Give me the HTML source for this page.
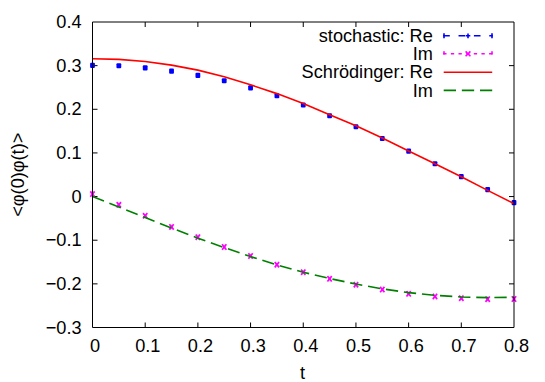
<!DOCTYPE html><html><head><meta charset="utf-8"><title>plot</title><style>html,body{margin:0;padding:0;background:#fff}svg{display:block}text{font-family:"Liberation Sans",sans-serif}</style></head><body>
<svg width="545" height="382" viewBox="0 0 545 382" font-family="Liberation Sans, sans-serif">
<rect width="545" height="382" fill="#fff"/>
<path d="M145.19,327.50 v-5 M145.19,22.00 v5 M197.88,327.50 v-5 M197.88,22.00 v5 M250.56,327.50 v-5 M250.56,22.00 v5 M303.25,327.50 v-5 M303.25,22.00 v5 M355.94,327.50 v-5 M355.94,22.00 v5 M408.62,327.50 v-5 M408.62,22.00 v5 M461.31,327.50 v-5 M461.31,22.00 v5 M92.50,65.64 h5 M514.00,65.64 h-5 M92.50,109.29 h5 M514.00,109.29 h-5 M92.50,152.93 h5 M514.00,152.93 h-5 M92.50,196.57 h5 M514.00,196.57 h-5 M92.50,240.21 h5 M514.00,240.21 h-5 M92.50,283.86 h5 M514.00,283.86 h-5" fill="none" stroke="#000" stroke-width="1"/>
<g fill="#0000ff"><rect x="90.10" y="62.80" width="4.8" height="5.1" rx="1"/><rect x="116.44" y="63.25" width="4.8" height="5.1" rx="1"/><rect x="142.79" y="65.35" width="4.8" height="5.1" rx="1"/><rect x="169.13" y="68.55" width="4.8" height="5.1" rx="1"/><rect x="195.47" y="72.85" width="4.8" height="5.1" rx="1"/><rect x="221.82" y="78.25" width="4.8" height="5.1" rx="1"/><rect x="248.16" y="85.30" width="4.8" height="5.1" rx="1"/><rect x="274.51" y="93.20" width="4.8" height="5.1" rx="1"/><rect x="300.85" y="102.50" width="4.8" height="5.1" rx="1"/><rect x="327.19" y="113.15" width="4.8" height="5.1" rx="1"/><rect x="353.54" y="124.20" width="4.8" height="5.1" rx="1"/><rect x="379.88" y="135.95" width="4.8" height="5.1" rx="1"/><rect x="406.23" y="148.55" width="4.8" height="5.1" rx="1"/><rect x="432.57" y="161.25" width="4.8" height="5.1" rx="1"/><rect x="458.91" y="174.10" width="4.8" height="5.1" rx="1"/><rect x="485.26" y="187.10" width="4.8" height="5.1" rx="1"/><rect x="511.60" y="200.05" width="4.8" height="5.1" rx="1"/></g>
<g stroke="#ff00ff" stroke-width="1.7" fill="none"><path d="M90.35,191.40 l4.30,5.40 M90.35,196.80 l4.30,-5.40"/><rect x="91.30" y="192.80" width="2.4" height="2.6" stroke="none" fill="#ff00ff"/><path d="M116.69,202.10 l4.30,5.40 M116.69,207.50 l4.30,-5.40"/><rect x="117.64" y="203.50" width="2.4" height="2.6" stroke="none" fill="#ff00ff"/><path d="M143.04,213.10 l4.30,5.40 M143.04,218.50 l4.30,-5.40"/><rect x="143.99" y="214.50" width="2.4" height="2.6" stroke="none" fill="#ff00ff"/><path d="M169.38,224.20 l4.30,5.40 M169.38,229.60 l4.30,-5.40"/><rect x="170.33" y="225.60" width="2.4" height="2.6" stroke="none" fill="#ff00ff"/><path d="M195.72,234.50 l4.30,5.40 M195.72,239.90 l4.30,-5.40"/><rect x="196.68" y="235.90" width="2.4" height="2.6" stroke="none" fill="#ff00ff"/><path d="M222.07,244.30 l4.30,5.40 M222.07,249.70 l4.30,-5.40"/><rect x="223.02" y="245.70" width="2.4" height="2.6" stroke="none" fill="#ff00ff"/><path d="M248.41,253.30 l4.30,5.40 M248.41,258.70 l4.30,-5.40"/><rect x="249.36" y="254.70" width="2.4" height="2.6" stroke="none" fill="#ff00ff"/><path d="M274.76,261.95 l4.30,5.40 M274.76,267.35 l4.30,-5.40"/><rect x="275.71" y="263.35" width="2.4" height="2.6" stroke="none" fill="#ff00ff"/><path d="M301.10,269.45 l4.30,5.40 M301.10,274.85 l4.30,-5.40"/><rect x="302.05" y="270.85" width="2.4" height="2.6" stroke="none" fill="#ff00ff"/><path d="M327.44,276.10 l4.30,5.40 M327.44,281.50 l4.30,-5.40"/><rect x="328.39" y="277.50" width="2.4" height="2.6" stroke="none" fill="#ff00ff"/><path d="M353.79,281.95 l4.30,5.40 M353.79,287.35 l4.30,-5.40"/><rect x="354.74" y="283.35" width="2.4" height="2.6" stroke="none" fill="#ff00ff"/><path d="M380.13,286.90 l4.30,5.40 M380.13,292.30 l4.30,-5.40"/><rect x="381.08" y="288.30" width="2.4" height="2.6" stroke="none" fill="#ff00ff"/><path d="M406.48,291.10 l4.30,5.40 M406.48,296.50 l4.30,-5.40"/><rect x="407.43" y="292.50" width="2.4" height="2.6" stroke="none" fill="#ff00ff"/><path d="M432.82,293.70 l4.30,5.40 M432.82,299.10 l4.30,-5.40"/><rect x="433.77" y="295.10" width="2.4" height="2.6" stroke="none" fill="#ff00ff"/><path d="M459.16,295.50 l4.30,5.40 M459.16,300.90 l4.30,-5.40"/><rect x="460.11" y="296.90" width="2.4" height="2.6" stroke="none" fill="#ff00ff"/><path d="M485.51,296.50 l4.30,5.40 M485.51,301.90 l4.30,-5.40"/><rect x="486.46" y="297.90" width="2.4" height="2.6" stroke="none" fill="#ff00ff"/><path d="M511.85,296.30 l4.30,5.40 M511.85,301.70 l4.30,-5.40"/><rect x="512.80" y="297.70" width="2.4" height="2.6" stroke="none" fill="#ff00ff"/></g>
<path d="M92.50,58.74 L118.84,59.34 L145.19,61.49 L171.53,65.11 L197.88,70.13 L224.22,76.72 L250.56,84.84 L276.91,93.62 L303.25,103.40 L329.59,114.68 L355.94,125.83 L382.28,138.07 L408.62,151.08 L434.97,163.83 L461.31,176.80 L487.66,190.34 L514.00,203.62" fill="none" stroke="#ff0000" stroke-width="1.6"/>
<path d="M92.50,196.52 L118.84,206.97 L145.19,217.56 L171.53,227.95 L197.88,238.14 L224.22,247.57 L250.56,256.61 L276.91,264.91 L303.25,272.24 L329.59,278.49 L355.94,284.07 L382.28,288.86 L408.62,292.62 L434.97,295.26 L461.31,297.00 L487.66,297.65 L514.00,297.28" fill="none" stroke="#008000" stroke-width="1.6" stroke-dasharray="12.3 5.85"/>
<g fill="none" stroke-width="1.6">
<path d="M443.20,35.80 H492.80" stroke="#0000ff" stroke-dasharray="6.6 8.75"/>
<path d="M444.00,33.30 v5 M492.00,33.30 v5 M465.70,35.80 h4.6 M468.00,33.40 v4.8" stroke="#0000ff"/>
<path d="M443.20,53.80 H492.80" stroke="#ff00ff" stroke-dasharray="3.3 4.35"/>
<path d="M444.00,51.20 v3.4 M492.00,51.20 v3.4" stroke="#ff00ff"/>
<path d="M465.60,51.40 l4.80,4.80 M465.60,56.20 l4.80,-4.80" stroke="#ff00ff"/>
<path d="M443.70,72.20 H492.20" stroke="#ff0000"/>
<path d="M443.70,90.40 H492.20" stroke="#008000" stroke-dasharray="12.3 5.85"/>
</g>
<path d="M92.50,22.00 H514.00 V327.50 H92.50 Z" fill="none" stroke="#000" stroke-width="1"/>
<g font-family="Liberation Sans, sans-serif" font-size="18.17" fill="#000" stroke="none"><text transform="translate(432.800,42.000)" text-anchor="end">stochastic: Re</text><text transform="translate(432.800,60.000)" text-anchor="end">Im</text><text transform="translate(432.800,78.000)" text-anchor="end">Schrödinger: Re</text><text transform="translate(432.800,96.600)" text-anchor="end">Im</text><text transform="translate(95.100,351.700)" text-anchor="middle">0</text><text transform="translate(147.787,351.700)" text-anchor="middle">0.1</text><text transform="translate(200.475,351.700)" text-anchor="middle">0.2</text><text transform="translate(253.162,351.700)" text-anchor="middle">0.3</text><text transform="translate(305.850,351.700)" text-anchor="middle">0.4</text><text transform="translate(358.538,351.700)" text-anchor="middle">0.5</text><text transform="translate(411.225,351.700)" text-anchor="middle">0.6</text><text transform="translate(463.913,351.700)" text-anchor="middle">0.7</text><text transform="translate(516.600,351.700)" text-anchor="middle">0.8</text><text transform="translate(81.550,28.100)" text-anchor="end">0.4</text><text transform="translate(81.550,71.743)" text-anchor="end">0.3</text><text transform="translate(81.550,115.386)" text-anchor="end">0.2</text><text transform="translate(81.550,159.029)" text-anchor="end">0.1</text><text transform="translate(81.550,202.671)" text-anchor="end">0</text><text transform="translate(81.550,246.314)" text-anchor="end">−0.1</text><text transform="translate(81.550,289.957)" text-anchor="end">−0.2</text><text transform="translate(81.550,333.600)" text-anchor="end">−0.3</text><text transform="translate(302.600,379.100)" text-anchor="middle">t</text><text transform="translate(24.000,174.750) rotate(-90)" text-anchor="middle">&lt;φ(0)φ(t)&gt;</text></g>
</svg></body></html>
